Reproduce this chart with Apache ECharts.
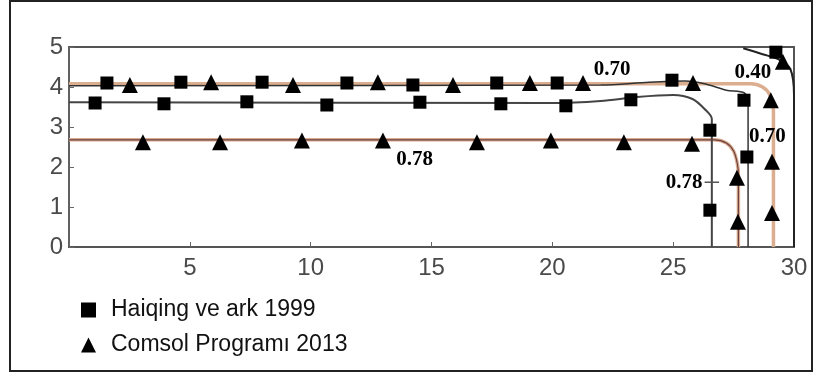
<!DOCTYPE html>
<html>
<head>
<meta charset="utf-8">
<script src="https://cdn.jsdelivr.net/npm/echarts@6/dist/echarts.min.js"></script>
<style>html,body{margin:0;padding:0;background:#fff;}#c{width:820px;height:376px;}</style>
</head>
<body>
<div id="c"></div>
<script>
// ---- data ----
const xTicks = [0, 5, 10, 15, 20, 25, 30];
const yTicks = [0, 1, 2, 3, 4, 5];
const haiqing = [
  [1.57,4.1],[4.63,4.12],[7.99,4.12],[11.5,4.1],[14.23,4.05],[17.7,4.1],[20.2,4.1],[24.95,4.17],
  [1.08,3.6],[3.93,3.58],[7.36,3.63],[10.67,3.55],[14.52,3.62],[17.87,3.58],[20.56,3.53],[23.25,3.68],
  [27.93,3.67],[26.52,2.92],[28.05,2.25],[26.52,0.92],[29.25,4.87]
];
const comsol = [
  [2.52,4.05],[5.88,4.12],[9.27,4.05],[12.78,4.12],[15.89,4.05],[19.07,4.1],[21.27,4.1],[25.82,4.1],
  [3.06,2.62],[6.25,2.62],[9.64,2.66],[12.99,2.66],[16.88,2.62],[19.94,2.66],[22.96,2.62],[25.78,2.58],
  [29.04,3.67],[29.09,2.13],[29.09,0.85],[27.64,1.73],[27.68,0.63],[29.54,4.63]
];
const contourTan1 = [[0,4.08],[28.2,4.08],[28.7,4.0],[29.0,3.8],[29.15,3.4],[29.15,0]];
const contourBlack1 = [[0,4.03],[22,4.05],[24,4.12],[25.5,4.15],[26.3,4.08],[27.2,3.92],[27.95,3.85],[28.1,3.6],[28.1,0]];
const contourMid = [[0,3.62],[20,3.6],[22,3.65],[23.5,3.75],[25,3.8],[25.8,3.7],[26.3,3.45],[26.6,3.2],[26.6,0]];
const contourTan2 = [[0,2.68],[26.7,2.68],[27.2,2.6],[27.5,2.4],[27.65,2.1],[27.7,1.8],[27.7,0]];
const cornerCurve = [[27.9,4.97],[28.7,4.82],[29.4,4.68],[29.85,4.45],[30,3.8],[30,0]];
const crossMark = [[26.3,1.62],[26.9,1.62]];
const annotations = [
  {text:'0.70', x:22.47, y:4.43},
  {text:'0.40', x:28.3, y:4.35},
  {text:'0.78', x:14.3, y:2.18},
  {text:'0.70', x:28.9, y:2.75},
  {text:'0.78', x:25.45, y:1.62}
];

const chart = echarts.init(document.getElementById('c'), null, {renderer:'canvas'});
const lineS = (data, color, width, z) => ({
  type:'line', data, showSymbol:false, symbol:'none', smooth:0.3, silent:true,
  lineStyle:{color, width}, z, legendHoverLink:false, animation:false
});
chart.setOption({
  animation:false,
  backgroundColor:'#fff',
  graphic:[{type:'rect', shape:{x:10,y:1,width:802,height:370}, style:{fill:'none', stroke:'#222', lineWidth:2}, z:100}],
  grid:{left:69, top:47, right:26, bottom:129, show:true, borderColor:'#555', borderWidth:2},
  legend:{
    orient:'vertical', left:76, top:293, itemGap:11, itemWidth:15, itemHeight:15,
    textStyle:{fontFamily:'Liberation Sans, Arial', fontSize:23, color:'#111', padding:[0,0,0,10], lineHeight:24},
    data:[{name:'Haiqing ve ark 1999', icon:'rect'}, {name:'Comsol Programı 2013', icon:'triangle'}]
  },
  xAxis:{
    type:'value', min:xTicks[0], max:xTicks[xTicks.length-1], interval:5,
    axisLine:{show:true, lineStyle:{color:'#555', width:2}},
    axisTick:{show:true, inside:true, length:5, lineStyle:{color:'#666'}},
    splitLine:{show:false},
    axisLabel:{fontFamily:'Liberation Sans Narrow, Liberation Sans', fontSize:24, color:'#4a4a4a', margin:9,
      formatter:v => v === 0 ? '' : String(v)}
  },
  yAxis:{
    type:'value', min:yTicks[0], max:yTicks[yTicks.length-1], interval:1,
    axisLine:{show:true, lineStyle:{color:'#666', width:1.5}},
    axisTick:{show:true, inside:true, length:5, lineStyle:{color:'#666'}},
    splitLine:{show:false},
    axisLabel:{fontFamily:'Liberation Sans Narrow, Liberation Sans', fontSize:24, color:'#4a4a4a', margin:6}
  },
  series:[
    lineS(contourTan1, '#dcae90', 3.5, 1),
    lineS(contourBlack1, '#333', 1.5, 2),
    lineS(contourMid, '#444', 2, 2),
    lineS(contourTan2, '#d8ab8e', 3.5, 1),
    lineS(contourTan2, '#6e4040', 1.2, 2),
    lineS(cornerCurve, '#222', 2, 2),
    Object.assign(lineS(crossMark, '#555', 1.5, 2), {smooth:false}),
    {
      type:'scatter', silent:true, symbolSize:0, z:5, itemStyle:{opacity:1},
      data: annotations.map(a => ({value:[a.x, a.y], name:a.text})),
      label:{show:true, position:'inside', formatter:p => p.name, opacity:1,
        fontFamily:'Liberation Serif, Times New Roman', fontWeight:'bold', fontSize:21, color:'#000'}
    },
    {name:'Haiqing ve ark 1999', type:'scatter', symbol:'rect', symbolSize:13, data:haiqing, itemStyle:{color:'#000', opacity:1}, z:10},
    {name:'Comsol Programı 2013', type:'scatter', symbol:'triangle', symbolSize:[16,16], data:comsol, itemStyle:{color:'#000', opacity:1}, z:10}
  ]
});
</script>
</body>
</html>
